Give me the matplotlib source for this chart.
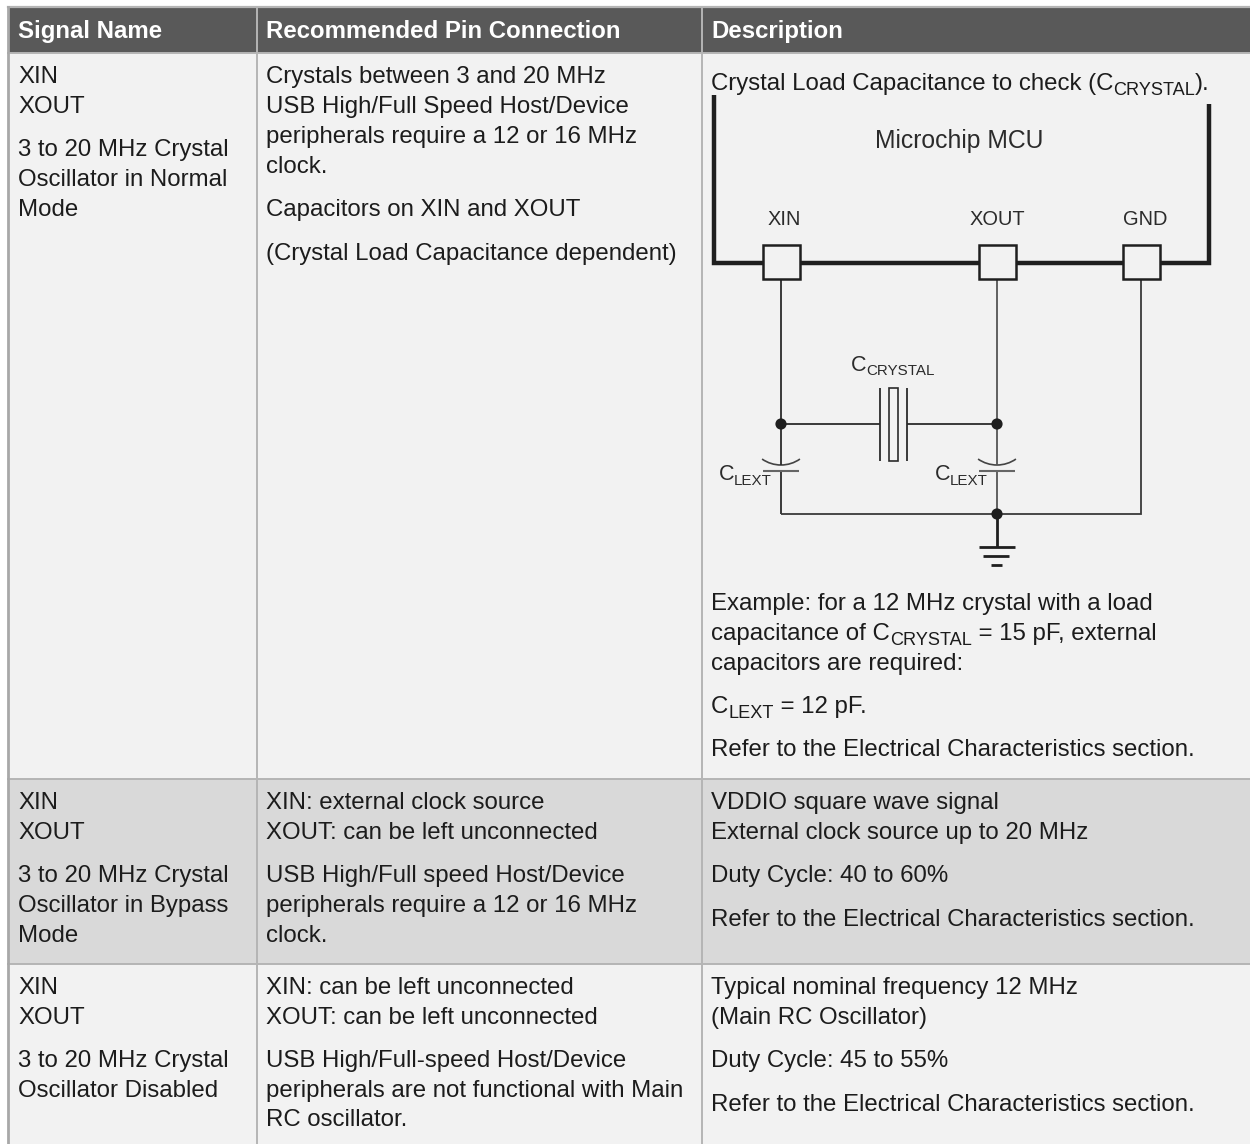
import matplotlib
matplotlib.use('Agg')
import matplotlib.pyplot as plt
from matplotlib.patches import Rectangle, Circle, Arc

W, H = 1250, 1144
FS = 17.25
SUB = 13.1
INK = '#1c1c1c'
DIA = '#2b2b2b'

headers = ['Signal Name', 'Recommended Pin Connection', 'Description']

col1_text = [
    'XIN', 'XOUT', '3 to 20 MHz Crystal', 'Oscillator in Normal', 'Mode',
    'XIN', 'XOUT', '3 to 20 MHz Crystal', 'Oscillator in Bypass', 'Mode',
    'XIN', 'XOUT', '3 to 20 MHz Crystal', 'Oscillator Disabled',
]
col1_y = [83, 113, 156, 186, 216, 809, 839, 882, 912, 942, 994, 1024, 1067, 1097]

col2_text = [
    'Crystals between 3 and 20 MHz',
    'USB High/Full Speed Host/Device',
    'peripherals require a 12 or 16 MHz',
    'clock.',
    'Capacitors on XIN and XOUT',
    '(Crystal Load Capacitance dependent)',
    'XIN: external clock source',
    'XOUT: can be left unconnected',
    'USB High/Full speed Host/Device',
    'peripherals require a 12 or 16 MHz',
    'clock.',
    'XIN: can be left unconnected',
    'XOUT: can be left unconnected',
    'USB High/Full-speed Host/Device',
    'peripherals are not functional with Main',
    'RC oscillator.',
]
col2_y = [83, 113, 143, 173, 216, 260, 809, 839, 882, 912, 942, 994, 1024, 1067, 1097, 1126]

col3_text = [
    [('Crystal Load Capacitance to check (C', 0), ('CRYSTAL', 1), (').', 0)],
    [('Example: for a 12 MHz crystal with a load', 0)],
    [('capacitance of C', 0), ('CRYSTAL', 1), (' = 15 pF, external', 0)],
    [('capacitors are required:', 0)],
    [('C', 0), ('LEXT', 1), (' = 12 pF.', 0)],
    [('Refer to the Electrical Characteristics section.', 0)],
    [('VDDIO square wave signal', 0)],
    [('External clock source up to 20 MHz', 0)],
    [('Duty Cycle: 40 to 60%', 0)],
    [('Refer to the Electrical Characteristics section.', 0)],
    [('Typical nominal frequency 12 MHz', 0)],
    [('(Main RC Oscillator)', 0)],
    [('Duty Cycle: 45 to 55%', 0)],
    [('Refer to the Electrical Characteristics section.', 0)],
]
col3_y = [90, 610, 640, 670, 713, 756, 809, 839, 882, 926, 994, 1024, 1067, 1111]

pin_names = ['XIN', 'XOUT', 'GND']
pin_x = [781, 997, 1141]

fig = plt.figure(figsize=(W / 100, H / 100), dpi=100)
ax = fig.add_axes([0, 0, 1, 1])
ax.set_xlim(0, W)
ax.set_ylim(H, 0)
ax.axis('off')
plt.rcParams['font.family'] = ['Liberation Sans', 'DejaVu Sans']


def rich(x, y, runs, size=FS, sub=SUB, color=INK):
    # subscripts are separate text pieces set one after the other
    r = fig.canvas.get_renderer()
    for s, is_sub in runs:
        fs = sub if is_sub else size
        ax.text(x, y + (5 if is_sub else 0), s, fontsize=fs, color=color, va='baseline', ha='left')
        # spaces are not measured well, so measure with n and take off the difference
        probe = ax.text(0, 0, s.replace(' ', 'n'), fontsize=fs, alpha=0)
        width = probe.get_window_extent(r).width
        probe.remove()
        x += width - s.count(' ') * 0.278 * fs * 100 / 72


def wire(xs, ys, lw=1.3, color=DIA):
    ax.plot(xs, ys, color=color, lw=lw, solid_capstyle='butt', solid_joinstyle='miter')


# table background
ax.add_patch(Rectangle((8, 7), W - 8, 46, fc='#595959', ec='none'))
ax.add_patch(Rectangle((8, 53), W - 8, 726, fc='#f2f2f2', ec='none'))
ax.add_patch(Rectangle((8, 779), W - 8, 185, fc='#d9d9d9', ec='none'))
ax.add_patch(Rectangle((8, 964), W - 8, H - 964, fc='#f2f2f2', ec='none'))

grid = '#b5b5b5'
ax.plot([8, W], [7, 7], color=grid, lw=1.6)
for y in [53, 779, 964]:
    ax.plot([8, W], [y, y], color=grid, lw=1.4)
for x in [257, 702]:
    ax.plot([x, x], [7, H], color=grid, lw=1.4)
ax.plot([8, 8], [7, H], color='#a8a8a8', lw=2)

# header row
for x, s in zip([18, 266, 711], headers):
    ax.text(x, 38, s, color='white', fontsize=FS, fontweight='bold', va='baseline')

for s, y in zip(col1_text, col1_y):
    ax.text(18, y, s, color=INK, fontsize=FS, va='baseline')
for s, y in zip(col2_text, col2_y):
    ax.text(266, y, s, color=INK, fontsize=FS, va='baseline')
for runs, y in zip(col3_text, col3_y):
    rich(711, y, runs)

# circuit: package outline
wire([714, 714, 1209, 1209], [95, 263, 263, 104], lw=3.2, color='#1f1f1f')
ax.text(959, 148, 'Microchip MCU', color=DIA, fontsize=17.8, ha='center', va='baseline')
for name, x, tx in zip(pin_names, pin_x, [784, 997, 1145]):
    ax.text(tx, 225, name, color=DIA, fontsize=14.4, ha='center', va='baseline')
    ax.add_patch(Rectangle((x - 18, 245), 37, 34, fc='#f2f2f2', ec='#1f1f1f', lw=1.8, zorder=3))

# wires
wire([781, 781], [279, 465])
wire([781, 781], [471, 514])
wire([997, 997], [279, 465], color='#555555')
wire([997, 997], [471, 514], color='#555555')
wire([781, 1141, 1141], [514, 514, 279], color='#3a3a3a')
wire([781, 880], [424, 424])
wire([907, 997], [424, 424])

# crystal
wire([880, 880], [388, 461])
wire([907, 907], [388, 461])
ax.add_patch(Rectangle((889, 388), 9, 73, fc='none', ec=DIA, lw=1.2))

# load capacitors
for x in [781, 997]:
    ax.add_patch(Arc((x, 432), 66, 66, theta1=55, theta2=125, color='#444444', lw=1.2))
    wire([x - 18, x + 18], [471, 471], lw=1.5, color='#666666')

# junctions
for x, y in [(781, 424), (997, 424), (997, 514)]:
    ax.add_patch(Circle((x, y), 5.6, fc='#1f1f1f', ec='none', zorder=4))

# ground
wire([997, 997], [514, 547], lw=2, color='#1f1f1f')
wire([979, 1015], [547, 547], lw=2, color='#1f1f1f')
wire([983, 1009], [556, 556], lw=2, color='#1f1f1f')
wire([991, 1002], [565, 565], lw=2, color='#1f1f1f')

# component labels
ax.text(851, 371, 'C', fontsize=15.5, color=DIA, va='baseline')
ax.text(866, 375, 'CRYSTAL', fontsize=10.9, color=DIA, va='baseline')
for x in [719, 935]:
    ax.text(x, 480, 'C', fontsize=15.5, color=DIA, va='baseline')
    ax.text(x + 15, 485, 'LEXT', fontsize=10.9, color=DIA, va='baseline')

fig.savefig('out.png', dpi=100)
